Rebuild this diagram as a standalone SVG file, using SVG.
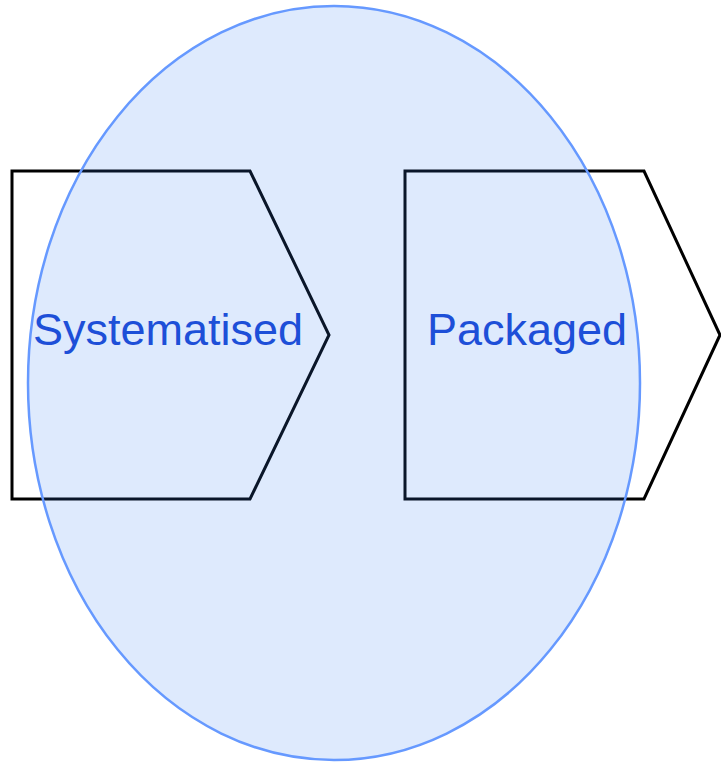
<svg xmlns="http://www.w3.org/2000/svg" width="721" height="765" viewBox="0 0 721 765">
<style>
.shape{fill:#ffffff;stroke:#000000;stroke-width:3;stroke-linejoin:miter}
.lbl{font-family:"Liberation Sans",Arial,sans-serif;font-size:45px;fill:#1d4fd8;text-anchor:middle}
</style>
<rect width="721" height="765" fill="#ffffff"/>
<g id="systematised">
<polygon class="shape" points="12,171 250,171 329,335 250,499 12,499"/>
</g>
<g id="packaged">
<polygon class="shape" points="405,171 644,171 720,335 644,499 405,499"/>
</g>
<g id="ellipse">
<ellipse cx="334" cy="383" rx="306" ry="377" fill="#3b82f6" fill-opacity="0.17" stroke="#6699ff" stroke-width="2.5"/>
</g>
<g id="labels">
<text class="lbl" x="168" y="345">Systematised</text>
<text class="lbl" x="527" y="345">Packaged</text>
</g>
<g id="connectors"></g>
</svg>
